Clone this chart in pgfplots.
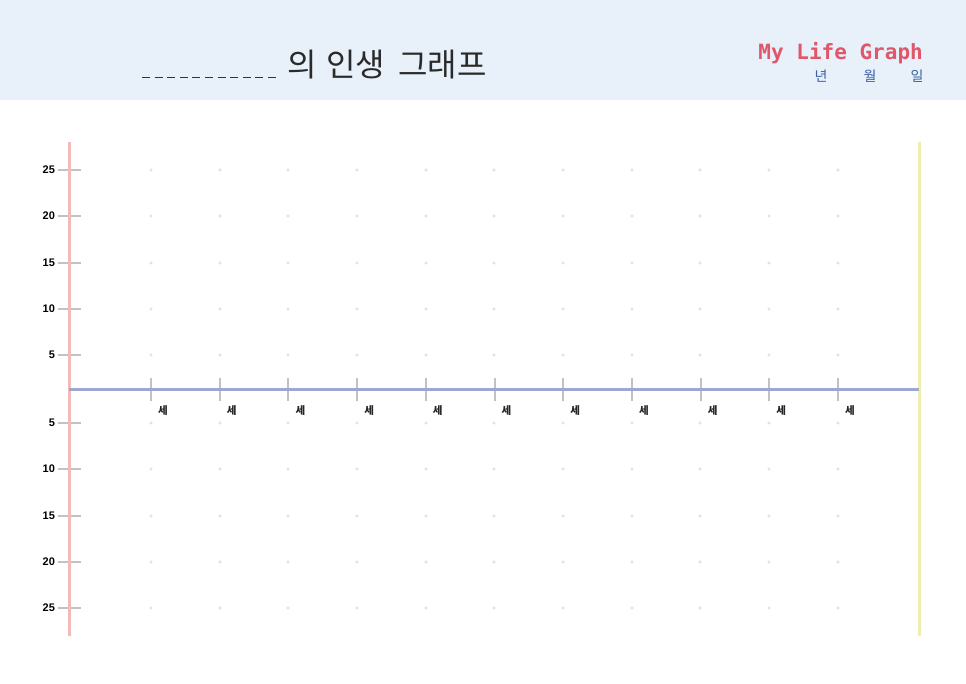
\documentclass[border=0pt]{standalone}
\usepackage{pgfplots}
\pgfplotsset{compat=1.18}
\usepackage{fontspec}
\setmainfont{Liberation Sans}
\newfontfamily\kr{Noto Sans CJK KR}
\newfontfamily\mono{DejaVu Sans Mono}
\definecolor{hdr}{HTML}{E8F0F9}
\definecolor{redline}{HTML}{F4B9B9}
\definecolor{yelline}{HTML}{EFEDB0}
\definecolor{blueline}{HTML}{9DA8D2}
\definecolor{tickgray}{HTML}{C2C2C2}
\definecolor{dotgray}{HTML}{E2E2E2}
\definecolor{lifered}{HTML}{E0566A}
\definecolor{dateblue}{HTML}{3A5FA5}
\definecolor{titlegray}{HTML}{2A2A2A}
\begin{document}
\begin{tikzpicture}[x=1pt,y=1pt]
\fill[white] (0,0) rectangle (966,-683);
\fill[hdr] (0,0) rectangle (966,-100);
\draw[dash pattern=on 8pt off 4.6pt, line width=1pt, black!80] (142,-77) -- (280,-77);
\node[anchor=base west, inner sep=0, text=titlegray, font=\kr\fontsize{32}{32}\selectfont] at (287,-76) {의};
\node[anchor=base west, inner sep=0, text=titlegray, font=\kr\fontsize{32}{32}\selectfont] at (326,-76) {인생};
\node[anchor=base west, inner sep=0, text=titlegray, font=\kr\fontsize{32}{32}\selectfont] at (398,-76) {그래프};
\node[anchor=base east, inner sep=0, font=\mono\bfseries\fontsize{21}{21}\selectfont, text=lifered] at (923,-59) {My Life Graph};
\node[font=\kr\fontsize{14}{14}\selectfont, text=dateblue] at (821,-76) {년};
\node[font=\kr\fontsize{14}{14}\selectfont, text=dateblue] at (870,-76) {월};
\node[font=\kr\fontsize{14}{14}\selectfont, text=dateblue] at (917,-76) {일};
\begin{axis}[
  at={(69pt,-636pt)}, anchor=south west,
  scale only axis, width=850pt, height=494pt,
  xmin=0, xmax=850, ymin=-247, ymax=247,
  clip=false,
  axis x line*=middle, axis y line*=left,
  axis line style={draw=none},
  tick align=center,
  major tick length=23pt,
  tick style={draw=tickgray, line width=2pt},
  /pgf/number format/assume math mode=true,
  xtick={82,150.7,219.4,288.1,356.8,425.5,494.2,562.9,631.6,700.3,769},
  xticklabel={\kr\bfseries 세},
  xticklabel style={font=\fontsize{10.5}{10.5}\selectfont, xshift=12pt, yshift=-2pt, text=black!85},
  ytick={-219,-173,-127,-80,-34,34,80,126,173,219},
  yticklabels={25,20,15,10,5,5,10,15,20,25},
  yticklabel style={font=\bfseries\fontsize{11}{11}\selectfont, text=black, xshift=1pt},
]
\addplot[only marks, mark=*, mark size=1.4pt, color=dotgray] coordinates {
(82,219)(151,219)(219,219)(288,219)(357,219)(425,219)(494,219)(563,219)(631,219)(700,219)(769,219)
(82,173)(151,173)(219,173)(288,173)(357,173)(425,173)(494,173)(563,173)(631,173)(700,173)(769,173)
(82,126)(151,126)(219,126)(288,126)(357,126)(425,126)(494,126)(563,126)(631,126)(700,126)(769,126)
(82,80)(151,80)(219,80)(288,80)(357,80)(425,80)(494,80)(563,80)(631,80)(700,80)(769,80)
(82,34)(151,34)(219,34)(288,34)(357,34)(425,34)(494,34)(563,34)(631,34)(700,34)(769,34)
(82,-34)(151,-34)(219,-34)(288,-34)(357,-34)(425,-34)(494,-34)(563,-34)(631,-34)(700,-34)(769,-34)
(82,-80)(151,-80)(219,-80)(288,-80)(357,-80)(425,-80)(494,-80)(563,-80)(631,-80)(700,-80)(769,-80)
(82,-127)(151,-127)(219,-127)(288,-127)(357,-127)(425,-127)(494,-127)(563,-127)(631,-127)(700,-127)(769,-127)
(82,-173)(151,-173)(219,-173)(288,-173)(357,-173)(425,-173)(494,-173)(563,-173)(631,-173)(700,-173)(769,-173)
(82,-219)(151,-219)(219,-219)(288,-219)(357,-219)(425,-219)(494,-219)(563,-219)(631,-219)(700,-219)(769,-219)
};
\addplot[draw=redline, line width=3pt] coordinates {(0,-247)(0,247)};
\addplot[draw=yelline, line width=3pt] coordinates {(850,-247)(850,247)};
\addplot[draw=blueline, line width=3pt] coordinates {(0,0)(850,0)};
\end{axis}
\end{tikzpicture}
\end{document}
